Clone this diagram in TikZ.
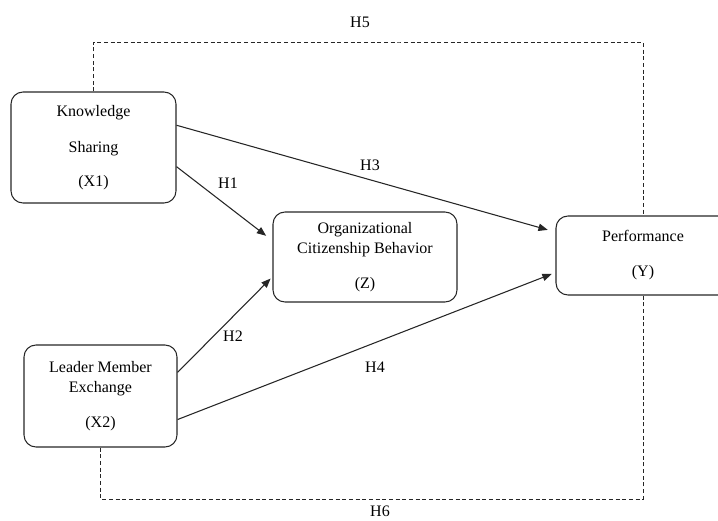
\documentclass[tikz,border=0pt]{standalone}
\usepackage{fontspec}
\setmainfont{Liberation Serif}
\usetikzlibrary{arrows.meta, calc}
\colorlet{line_gray}{black!85}
\tikzset{>={Triangle[length=7pt,width=5.5pt]},
  var box/.style={
    draw=line_gray, line width=0.8pt, rounded corners=9pt,
    align=center, inner sep=0pt,
    font=\fontsize{12}{15}\selectfont
  },
  hyp arrow/.style={->, line width=0.8pt, line_gray},
  hyp dashed/.style={line width=0.7pt, line_gray, dash pattern=on 3pt off 2pt},
  hyp label/.style={font=\fontsize{12}{15}\selectfont}
}

\begin{document}
\begin{tikzpicture}[x=0.75pt, y=-0.75pt]

% Fix the frame of the picture
\path[use as bounding box, clip] (0,0) rectangle (718,521);

% Draw the variable boxes
\node[var box, minimum width=123.75pt, minimum height=83.25pt] (ks) at (93.5,147.5)
  {Knowledge\\[12pt]Sharing\\[11pt](X1)};
\node[var box, minimum width=114.75pt, minimum height=76.5pt] (lmx) at (100.5,396)
  {Leader Member\\Exchange\\[11.25pt](X2)};
\node[var box, minimum width=138pt, minimum height=67.5pt] (ocb) at (365,257)
  {Organizational\\Citizenship Behavior\\[11.25pt](Z)};
\node[var box, minimum width=130.5pt, minimum height=59.25pt] (perf) at (643,255.5)
  {Performance\\[11.25pt](Y)};

% Draw the direct paths H1 - H4
\draw[hyp arrow, shorten >=6pt] (ks.-13) -- (ocb.170);
\draw[hyp arrow, shorten >=2pt] (lmx.17) -- (ocb.192);
\draw[hyp arrow, shorten >=6pt] (ks.15) -- (perf.165);
\draw[hyp arrow, shorten >=3pt] (lmx.-17) -- (perf.191);

% Draw the mediated paths H5 and H6
\coordinate (h5top) at (400,42);
\coordinate (h6bot) at (400,499);
\draw[hyp dashed] (ks.north) |- (h5top) -| (perf.north);
\draw[hyp dashed] (lmx.south) |- (h6bot) -| (perf.south);

% Label the hypotheses
\node[hyp label] (h1) at (228,183) {H1};
\node[hyp label] (h2) at (233,336) {H2};
\node[hyp label] (h3) at (370,165) {H3};
\node[hyp label] (h4) at (375,367) {H4};
\node[hyp label] (h5) at (360,22) {H5};
\node[hyp label] (h6) at (380,511) {H6};

\end{tikzpicture}
\end{document}
